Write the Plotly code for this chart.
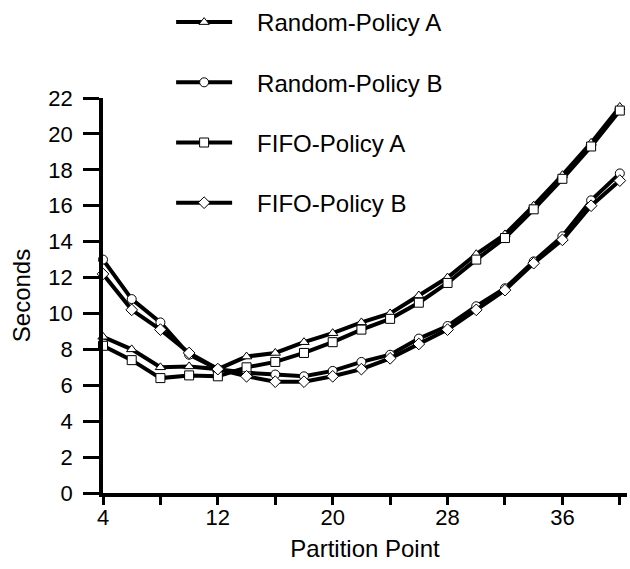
import plotly.graph_objects as go

partition = [4, 6, 8, 10, 12, 14, 16, 18, 20, 22, 24, 26, 28, 30, 32, 34, 36, 38, 40]

random_a = [8.7, 8.0, 7.0, 7.05, 6.9, 7.6, 7.8, 8.4, 8.9, 9.5, 10.0, 11.0, 12.0, 13.3, 14.4, 16.0, 17.7, 19.5, 21.5]
random_b = [13.0, 10.8, 9.5, 7.7, 6.9, 6.7, 6.6, 6.5, 6.8, 7.3, 7.7, 8.6, 9.3, 10.4, 11.4, 12.9, 14.3, 16.3, 17.8]
fifo_a = [8.2, 7.4, 6.4, 6.55, 6.5, 7.0, 7.3, 7.8, 8.4, 9.1, 9.7, 10.6, 11.7, 13.0, 14.2, 15.8, 17.5, 19.3, 21.3]
fifo_b = [12.2, 10.2, 9.1, 7.8, 6.9, 6.5, 6.2, 6.2, 6.5, 6.9, 7.5, 8.3, 9.1, 10.2, 11.3, 12.8, 14.1, 16.0, 17.4]

series = [
    ("Random-Policy A", random_a, "triangle-up"),
    ("Random-Policy B", random_b, "circle"),
    ("FIFO-Policy A", fifo_a, "square"),
    ("FIFO-Policy B", fifo_b, "diamond"),
]

x_tickvals = [4, 8, 12, 16, 20, 24, 28, 32, 36, 40]
x_ticktext = ["4", "", "12", "", "20", "", "28", "", "36", ""]
y_tickvals = [0, 2, 4, 6, 8, 10, 12, 14, 16, 18, 20, 22]

FONT = "Liberation Sans, Arial, Helvetica, sans-serif"
PAD = "\u00a0\u00a0\u00a0"

fig = go.Figure()
for i, (name, vals, sym) in enumerate(series):
    fig.add_trace(go.Scatter(
        x=partition, y=vals, name=PAD + name, mode="lines+markers",
        line=dict(color="black", width=4),
        marker=dict(symbol=sym, size=9, color="white",
                    line=dict(color="black", width=1)),
        legendgroup=str(i),
        cliponaxis=False,
    ))

fig.update_layout(
    width=630, height=569,
    margin=dict(l=103, r=3, t=98, b=76, autoexpand=False),
    paper_bgcolor="white", plot_bgcolor="white",
    font=dict(family=FONT, size=22, color="black"),
    showlegend=True,
    legend=dict(
        x=0.13, xanchor="left", y=1.026, yanchor="top", yref="container",
        font=dict(family=FONT, size=24, color="black"),
        itemwidth=56, tracegroupgap=26,
        bgcolor="rgba(0,0,0,0)",
    ),
    xaxis=dict(
        range=[4, 40.5], showgrid=False, zeroline=False,
        showline=True, linecolor="black", linewidth=3.5,
        ticks="outside", ticklen=8, tickwidth=3, tickcolor="black",
        tickmode="array", tickvals=x_tickvals, ticktext=x_ticktext,
        tickfont=dict(size=22),
        ticklabelstandoff=-6,
        title=dict(text="Partition Point", font=dict(size=24), standoff=12),
    ),
    yaxis=dict(
        range=[0, 22], showgrid=False, zeroline=False,
        showline=True, linecolor="black", linewidth=3.5,
        ticks="outside", ticklen=16, tickwidth=3, tickcolor="black",
        tickmode="array", tickvals=y_tickvals,
        tickfont=dict(size=22),
        ticklabelstandoff=6,
        title=dict(text="Seconds", font=dict(size=24), standoff=12),
    ),
)

fig.write_html("out.html")
